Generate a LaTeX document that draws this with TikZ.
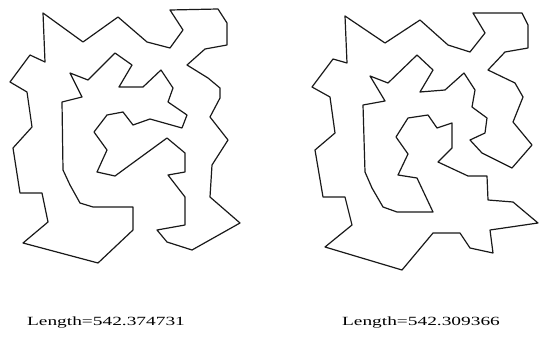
\documentclass[tikz,border=0pt]{standalone}
\usepackage{fontspec}
\setmainfont{Liberation Serif}
\usepackage{tikz}

\begin{document}
\begin{tikzpicture}[x=1pt, y=-1pt,
  tour/.style={draw=black!90, line width=1.2pt, line join=round},
  lab/.style={anchor=base, inner sep=0pt, font=\fontsize{12.5}{14}\selectfont}]

  \useasboundingbox (0,0) rectangle (540,337);

  % left tour
  \draw[tour] (43,13) -- (83,42) -- (118,17) -- (147,42) -- (170,48) -- (183,30)
    -- (170,10) -- (218,9) -- (227,23) -- (227,45) -- (205,49) -- (187,65)
    -- (208,78) -- (220,88) -- (220,98) -- (210,117) -- (228,140) -- (212,165)
    -- (210,197) -- (240,223) -- (192,250) -- (167,242) -- (157,230) -- (185,225)
    -- (185,197) -- (168,175) -- (185,172) -- (185,153) -- (167,138) -- (130,165)
    -- (115,176) -- (97,172) -- (107,150) -- (94,132) -- (107,115) -- (123,112)
    -- (133,125) -- (150,119) -- (182,128) -- (187,115) -- (168,102) -- (173,88)
    -- (161,70) -- (143,87) -- (119,87) -- (132,65) -- (115,53) -- (88,80)
    -- (70,73) -- (82,97) -- (62,102) -- (63,170) -- (70,185) -- (80,203)
    -- (93,207) -- (133,207) -- (133,230) -- (98,263) -- (23,243) -- (48,222)
    -- (42,193) -- (20,193) -- (13,148) -- (32,127) -- (27,92) -- (10,82)
    -- (30,55) -- (45,62) -- cycle;

  % right tour
  \draw[tour] (345,16) -- (385,43) -- (420,20) -- (448,45) -- (470,52) -- (485,33)
    -- (473,13) -- (522,13) -- (528,25) -- (528,48) -- (505,52) -- (488,70)
    -- (515,83) -- (523,97) -- (513,122) -- (532,145) -- (512,168) -- (482,153)
    -- (470,140) -- (485,133) -- (487,118) -- (472,107) -- (475,90) -- (464,73)
    -- (445,90) -- (420,92) -- (433,70) -- (417,55) -- (388,83) -- (370,76)
    -- (385,101) -- (363,105) -- (365,172) -- (372,188) -- (383,207) -- (397,212)
    -- (433,212) -- (417,178) -- (398,175) -- (408,154) -- (396,137) -- (408,118)
    -- (428,115) -- (437,128) -- (452,123) -- (452,148) -- (438,162) -- (468,176)
    -- (487,176) -- (488,200) -- (513,202) -- (538,223) -- (490,230) -- (493,253)
    -- (470,248) -- (460,233) -- (433,233) -- (402,270) -- (325,247) -- (352,225)
    -- (345,197) -- (323,197) -- (315,150) -- (335,133) -- (330,97) -- (312,87)
    -- (333,59) -- (347,63) -- cycle;

  % lengths
  \node[lab] (lenA) at (106,325) {\scalebox{1.55}[1]{Length=542.374731}};
  \node[lab] (lenB) at (421,325) {\scalebox{1.55}[1]{Length=542.309366}};
\end{tikzpicture}
\end{document}
